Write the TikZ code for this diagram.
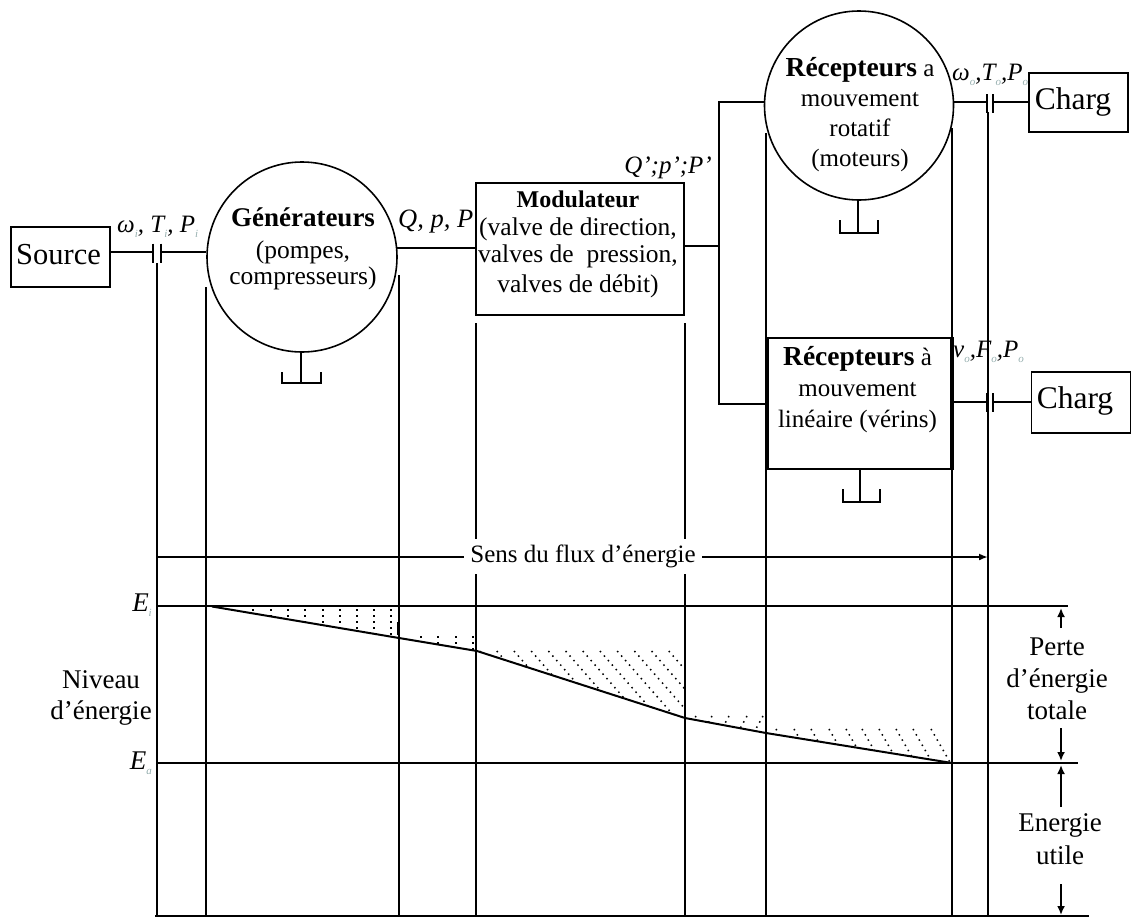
\documentclass[tikz,border=0pt]{standalone}
\usepackage{fontspec}
\setmainfont{Liberation Serif}
\usetikzlibrary{arrows.meta}
\definecolor{subtint}{RGB}{150,175,175}
\newcommand{\sbx}[1]{\raisebox{-5pt}{\fontsize{11}{11}\selectfont\color{subtint}#1}}
\newcommand{\bfx}[2]{{\fontsize{#1}{#1}\selectfont\bfseries #2}}
\tikzset{
  x=1pt,y=-1pt,
  ln/.style={line width=1.8pt,black},
  guide/.style={line width=1.9pt,black},
  boxn/.style={draw=black,line width=1.8pt,rectangle,inner sep=0pt,fill=white},
  circn/.style={draw=black,line width=1.6pt,circle,inner sep=0pt,fill=white},
  txt/.style={inner sep=0pt,align=center,font=\fontsize{25}{29}\selectfont},
  var/.style={inner sep=0pt,font=\fontsize{25}{25}\selectfont\itshape},
  hatchdots/.style={line width=1.5pt,black,dash pattern=on 1.5pt off 4.5pt},
  arr/.style={ln,-{Latex[length=9pt,width=8pt]}},
}
\begin{document}
\begin{tikzpicture}
\useasboundingbox (0,0) rectangle (1134,918);
% named reference points
\coordinate (base) at (0,916);
\coordinate (g1) at (157,263);
\coordinate (g2) at (206,287);
\coordinate (g3) at (399,275);
\coordinate (g4) at (476,323);
\coordinate (g5) at (685,323);
\coordinate (g6) at (766,133);
\coordinate (g7) at (952,128);
\coordinate (g8) at (988,112);
% guides
\foreach \g in {g1,g2,g3,g4,g5,g6,g7,g8}{\draw[guide] (\g) -- (\g |- base);}
% level lines
\coordinate (eiL) at (157,606); \coordinate (eiR) at (1068,606);
\coordinate (eaL) at (157,763); \coordinate (eaR) at (1078,763);
\coordinate (bL) at (155,916);  \coordinate (bR) at (1089,916);
\draw[ln] (eiL) -- (eiR);
\draw[ln] (eaL) -- (eaR);
\draw[guide] (bL) -- (bR);
% energy curve
\coordinate (c0) at (212,606.5);
\coordinate (c1) at (399,638);
\coordinate (c2) at (477,651);
\coordinate (c3) at (685,718);
\coordinate (c4) at (766,733);
\coordinate (c5) at (952,763);
\draw[line width=2pt] (c0) -- (c1) -- (c2) -- (c3) -- (c4) -- (c5);
% hatching
\begin{scope}
  \clip (212,606) -- (399,606) -- (399,638) -- (212,606.5) -- cycle;
  \foreach \x in {253,271,288,305,323,340,357,374,391}{\draw[hatchdots] (\x,609) -- (\x,640);}
\end{scope}
\draw[line width=3pt] (398,622) -- (398,635);
\begin{scope}
  \clip (399,634) -- (477,634) -- (477,651) -- (399,638) -- cycle;
  \foreach \x in {421,438,456,473}{\draw[hatchdots] (\x,636) -- (\x,655);}
\end{scope}
\begin{scope}
  \clip (477,650) -- (685,650) -- (685,718) -- (477,651) -- cycle;
  \foreach \k in {0,...,15}{\draw[hatchdots] (\fpeval{428+17.2*\k},651) -- ++(70,80);}
\end{scope}
\begin{scope}
  \clip (685,714) -- (766,714) -- (766,733) -- (685,718) -- cycle;
  \foreach \x in {696,712,729,747,763}{\draw[hatchdots] (\x,716) -- ++(-11,20);}
\end{scope}
\begin{scope}
  \clip (766,727) -- (952,727) -- (952,763) -- (766,733) -- cycle;
  \foreach \x in {776,794,811,829,846,862,879,896,913,931}{\draw[hatchdots] (\x,729) -- ++(20,35);}
\end{scope}
% flow arrow
\coordinate (flowL) at (157,557); \coordinate (flowR) at (988,557);
\draw[ln,-{Latex[length=9pt,width=7pt]}] (flowL) -- (flowR);
\node[txt,fill=white,minimum width=238pt,minimum height=35pt] (flow) at (583,556) {Sens du flux d’énergie};
% main shapes
\node[boxn,minimum width=99pt,minimum height=60pt] (source) at (60.5,257) {};
\node[circn,minimum size=190pt] (gen) at (302,257) {};
\node[boxn,minimum width=208pt,minimum height=132pt] (mod) at (580,249) {};
\node[circn,minimum size=189pt] (rot) at (859,105.5) {};
\node[boxn,minimum width=183pt,minimum height=131pt] (lin) at (859.5,403.5) {};
\draw[line width=3.2pt] (lin.north west) -- (lin.south west) (lin.north east) -- (lin.south east);
\node[boxn,minimum width=99pt,minimum height=59pt] (ch1) at (1078.5,102.5) {};
\node[boxn,minimum width=99pt,minimum height=61pt] (ch2) at (1081,402.5) {};
% texts in shapes
\node[inner sep=0pt,font=\fontsize{30.5}{31}\selectfont] (tsrc) at (58.5,255) {Source};
\node[inner sep=0pt,font=\fontsize{31.5}{31}\selectfont] (tch1) at (1073,102) {Charg};
\node[inner sep=0pt,font=\fontsize{31.5}{31}\selectfont] (tch2) at (1075,401) {Charg};
\node[txt,font=\fontsize{25.5}{29}\selectfont] (tgen) at (303,248.5) {\bfx{27}{Générateurs}\\[3pt](pompes,\\[-3pt]compresseurs)};
\node[txt,font=\fontsize{25.5}{27.5}\selectfont] (tmod) at (578,244.5) {\bfx{24}{Modulateur}\\(valve de direction,\\valves de\ \ pression,\\[2pt]valves de débit)};
\node[txt,font=\fontsize{25}{30}\selectfont] (trot) at (860,115) {\bfx{27.5}{Récepteurs} a\\mouvement\\rotatif\\(moteurs)};
\node[txt,font=\fontsize{25}{31}\selectfont] (tlin) at (857.5,390) {\bfx{27.5}{Récepteurs} à\\mouvement\\linéaire (vérins)};
% connections
\coordinate (capA1) at (153,252); \coordinate (capA2) at (161,252);
\draw[ln] (source.east |- capA1) -- (capA1);
\draw[ln] (capA2) -- (gen.west |- capA2);
\draw[ln] (153,243.5) -- (153,263) (161,243.5) -- (161,263);
\coordinate (q) at (397,248);
\draw[ln] (q) -- (mod.west |- q);
\coordinate (busT) at (719,102);
\coordinate (busB) at (719,404);
\coordinate (busM) at (719,246);
\draw[ln] (rot.west |- busT) -- (busT) -- (busB) -- (lin.west |- busB);
\draw[ln] (mod.east |- busM) -- (busM);
% output couplings
\coordinate (cap1a) at (987,102); \coordinate (cap1b) at (993,102);
\draw[ln] (rot.east |- cap1a) -- (cap1a);
\draw[ln] (cap1b) -- (ch1.west |- cap1b);
\draw[line width=2.6pt] (987,94) -- (987,113);
\draw[ln] (993,94) -- (993,113);
\coordinate (cap2a) at (987,402); \coordinate (cap2b) at (993,402);
\draw[ln] (lin.east |- cap2a) -- (cap2a);
\draw[ln] (cap2b) -- (ch2.west |- cap2b);
\draw[line width=2.6pt] (987,393) -- (987,412);
\draw[ln] (993,393) -- (993,412);
% drains
\foreach \c/\sx/\ly/\by/\xa/\xb in {gen/300.7/372/383/281.7/320.7, rot/858/220/233/840/878, lin/860/489/502/843/880}{
  \draw[ln] (\c.south -| \sx,0) -- (\sx,\by);
  \draw[ln] (\xa,\ly) -- (\xa,\by) -- (\xb,\by) -- (\xb,\ly);
}
% variables
\node[var,anchor=west] (v1) at (117,227) {ω\sbx{i}, T\sbx{i}, P\sbx{i}};
\node[var,anchor=west,font=\fontsize{26.5}{26}\selectfont\itshape] (v2) at (398,222) {Q, p, P};
\node[var,anchor=east,font=\fontsize{25}{25}\selectfont\itshape] (v3) at (712,168) {Q’;p’;P’};
\node[var,anchor=west] (v4) at (952,75) {ω\sbx{o},T\sbx{o},P\sbx{o}};
\node[var,anchor=west] (v5) at (953,352) {v\sbx{o},F\sbx{o},P\sbx{o}};
\node[var,anchor=east,font=\fontsize{27}{27}\selectfont\itshape] (ei) at (152,605) {E\sbx{i}};
\node[var,anchor=east,font=\fontsize{27}{27}\selectfont\itshape] (ea) at (152,763) {E\sbx{a}};
% side labels
\node[txt,font=\fontsize{27}{31}\selectfont] (niv) at (101,698) {Niveau\\d’énergie};
\node[txt,font=\fontsize{27}{32}\selectfont] (perte) at (1057,679) {Perte\\d’énergie\\totale};
\node[txt,font=\fontsize{27}{33}\selectfont] (util) at (1060,839) {Energie\\utile};
% dimension arrows
\coordinate (a1s) at (1061,628); \coordinate (a1e) at (1061,608);
\coordinate (a2s) at (1061,728); \coordinate (a2e) at (1061,761);
\coordinate (a3s) at (1061,807); \coordinate (a3e) at (1061,765);
\coordinate (a4s) at (1061,884); \coordinate (a4e) at (1061,915);
\draw[arr] (a1s) -- (a1e);
\draw[arr] (a2s) -- (a2e);
\draw[arr] (a3s) -- (a3e);
\draw[arr] (a4s) -- (a4e);
\end{tikzpicture}
\end{document}
